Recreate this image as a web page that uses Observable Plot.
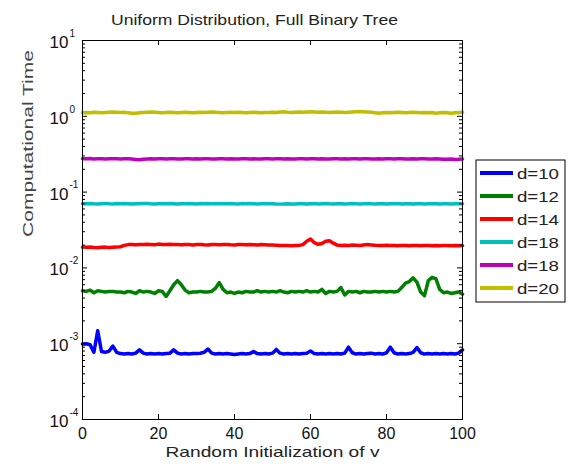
<!DOCTYPE html>
<html><head><meta charset="utf-8">
<script src="https://cdn.jsdelivr.net/npm/d3@7"></script>
<script src="https://cdn.jsdelivr.net/npm/@observablehq/plot@0.6"></script>
<style>body{margin:0;background:#fff;} svg{display:block;}</style>
</head><body><div id="chart"></div>
<script>
const titleText = "Uniform Distribution, Full Binary Tree";
const xLabel = "Random Initialization of v";
const yLabel = "Computational Time";
const xTicks = [0, 20, 40, 60, 80, 100];
const yDecades = [1e-4, 1e-3, 1e-2, 1e-1, 1, 10];
const yExponents = ["-4", "-3", "-2", "-1", "0", "1"];
const minorMults = [2, 3, 4, 5, 6, 7, 8, 9];
const labels = ["d=10", "d=12", "d=14", "d=18", "d=18", "d=20"];
const colors = ["#0000ff", "#008000", "#ff0000", "#00bfbf", "#bf00bf", "#bfbf00"];

const d10 = [
.00099,.00100,.00097,.00077,.00148,.00079,.00077,.00080,.00093,.00077,
.00074,.00073,.00074,.00073,.00075,.00083,.00075,.00073,.00074,.00073,
.00074,.00073,.00074,.00075,.00083,.00075,.00073,.00074,.00073,.00074,
.00074,.00075,.00077,.00085,.00075,.00073,.00074,.00073,.00074,.00073,
.00072,.00073,.00074,.00073,.00074,.00079,.00074,.00073,.00074,.00073,
.00075,.00084,.00075,.00073,.00074,.00073,.00074,.00073,.00074,.00075,
.00080,.00074,.00073,.00074,.00073,.00074,.00073,.00074,.00073,.00075,
.00090,.00076,.00073,.00074,.00073,.00074,.00075,.00073,.00074,.00073,
.00076,.00090,.00076,.00073,.00074,.00073,.00074,.00077,.00089,.00076,
.00073,.00074,.00073,.00074,.00073,.00074,.00073,.00074,.00073,.00075,.00083];

const d12 = [
.0050,.0049,.0051,.0047,.0050,.0049,.0048,.0049,.0049,.0048,
.0048,.0047,.0049,.0048,.0046,.0050,.0048,.0049,.0048,.0046,
.0050,.0049,.0042,.0050,.0060,.0068,.0060,.0051,.0047,.0048,
.0048,.0049,.0048,.0048,.0049,.0054,.0064,.0052,.0047,.0048,
.0046,.0048,.0047,.0049,.0048,.0048,.0050,.0048,.0049,.0048,
.0049,.0048,.0050,.0048,.0047,.0049,.0048,.0049,.0048,.0050,
.0048,.0049,.0048,.0052,.0046,.0049,.0048,.0049,.0055,.0044,
.0049,.0048,.0049,.0047,.0049,.0048,.0048,.0049,.0048,.0049,
.0048,.0049,.0048,.0049,.0055,.0063,.0066,.0074,.0065,.0048,
.0043,.0068,.0075,.0072,.0052,.0047,.0048,.0046,.0047,.0048,.0045];

const d14 = [
.0188,.0187,.0189,.0186,.0185,.0187,.0188,.0186,.0187,.0188,
.0190,.0198,.0203,.0204,.0202,.0204,.0203,.0205,.0204,.0202,
.0206,.0204,.0203,.0205,.0204,.0203,.0202,.0204,.0203,.0201,
.0203,.0204,.0202,.0201,.0203,.0204,.0202,.0203,.0204,.0202,
.0201,.0203,.0204,.0202,.0203,.0202,.0201,.0203,.0202,.0201,
.0200,.0199,.0198,.0197,.0198,.0196,.0197,.0198,.0203,.0225,
.0240,.0215,.0205,.0210,.0225,.0228,.0212,.0200,.0198,.0199,
.0198,.0200,.0199,.0198,.0201,.0203,.0201,.0199,.0198,.0197,
.0199,.0198,.0197,.0196,.0198,.0197,.0196,.0198,.0197,.0196,
.0197,.0198,.0196,.0197,.0196,.0198,.0197,.0196,.0197,.0196,.0197];

const d18a = [
.0705,.0700,.0708,.0702,.0698,.0704,.0710,.0703,.0699,.0705,
.0701,.0707,.0702,.0698,.0704,.0700,.0706,.0709,.0702,.0699,
.0703,.0705,.0700,.0707,.0702,.0698,.0704,.0701,.0706,.0703,
.0699,.0705,.0702,.0708,.0700,.0703,.0706,.0701,.0704,.0709,
.0702,.0698,.0705,.0700,.0707,.0703,.0699,.0704,.0706,.0701,
.0703,.0697,.0694,.0698,.0701,.0696,.0699,.0703,.0700,.0697,
.0702,.0705,.0699,.0703,.0706,.0700,.0697,.0702,.0704,.0699,
.0701,.0705,.0702,.0698,.0703,.0706,.0700,.0697,.0702,.0704,
.0699,.0703,.0700,.0705,.0698,.0702,.0704,.0699,.0701,.0703,
.0698,.0702,.0700,.0704,.0699,.0701,.0703,.0698,.0700,.0702,.0701];

const d18b = [
.276,.275,.277,.274,.275,.276,.274,.275,.276,.275,
.274,.275,.276,.273,.270,.268,.271,.274,.275,.274,
.276,.275,.274,.276,.275,.274,.273,.275,.276,.274,
.275,.274,.276,.275,.274,.273,.275,.276,.274,.275,
.273,.274,.275,.276,.274,.275,.273,.274,.276,.275,
.274,.275,.276,.274,.275,.273,.274,.275,.276,.274,
.275,.276,.274,.275,.273,.274,.275,.276,.274,.275,
.274,.275,.276,.274,.275,.276,.274,.273,.275,.274,
.276,.275,.274,.276,.275,.274,.273,.275,.274,.276,
.275,.274,.273,.275,.274,.272,.271,.273,.270,.271,.274];

const d20 = [
1.11,1.12,1.11,1.13,1.12,1.11,1.12,1.13,1.14,1.13,
1.12,1.13,1.11,1.10,1.10,1.11,1.12,1.13,1.14,1.13,
1.12,1.11,1.12,1.13,1.12,1.11,1.12,1.13,1.12,1.11,
1.12,1.13,1.12,1.13,1.14,1.13,1.12,1.11,1.12,1.13,
1.12,1.13,1.12,1.11,1.12,1.13,1.12,1.11,1.12,1.12,
1.13,1.12,1.14,1.15,1.13,1.12,1.13,1.14,1.13,1.14,
1.15,1.14,1.13,1.14,1.13,1.12,1.13,1.14,1.13,1.12,
1.13,1.14,1.15,1.16,1.15,1.14,1.13,1.11,1.10,1.11,
1.12,1.11,1.12,1.13,1.12,1.11,1.12,1.13,1.12,1.11,
1.12,1.11,1.12,1.10,1.11,1.12,1.11,1.10,1.11,1.12,1.13];

const seriesValues = [d10, d12, d14, d18a, d18b, d20];
const rows = seriesValues.flatMap((vals, k) => vals.map((v, i) => ({x: i, y: v, k})));
const minorTicks = yDecades.slice(0, -1).flatMap(d => minorMults.map(m => d * m));

const W = 569, H = 464, mL = 82, mR = 107, mT = 40, mB = 45;
const pw = W - mL - mR, ph = H - mT - mB;

const plot = Plot.plot({
  width: W, height: H,
  marginLeft: mL, marginRight: mR, marginTop: mT, marginBottom: mB,
  style: {fontFamily: "'Liberation Sans', Arial, sans-serif", background: "white", color: "#111"},
  x: {domain: [0, 100], axis: null},
  y: {type: "log", domain: [1e-4, 10], axis: null},
  marks: [
    Plot.line(rows, {x: "x", y: "y", z: "k", stroke: d => colors[d.k], strokeWidth: 3.5, strokeLinejoin: "round"}),
    Plot.tickX(xTicks, {x: d => d, insetTop: ph - 5, stroke: "black"}),
    Plot.tickX(xTicks, {x: d => d, insetBottom: ph - 5, stroke: "black"}),
    Plot.tickY(yDecades, {y: d => d, insetRight: pw - 5, stroke: "black"}),
    Plot.tickY(yDecades, {y: d => d, insetLeft: pw - 5, stroke: "black"}),
    Plot.tickY(minorTicks, {y: d => d, insetRight: pw - 3, stroke: "black"}),
    Plot.tickY(minorTicks, {y: d => d, insetLeft: pw - 3, stroke: "black"}),
    Plot.frame({stroke: "black"}),
    Plot.text(xTicks, {x: d => d, text: d => String(d), frameAnchor: "bottom", lineAnchor: "middle", dy: 14, fontSize: 16, fill: "#111"}),
    Plot.text(yDecades, {y: d => d, text: () => "10", frameAnchor: "left", lineAnchor: "middle", textAnchor: "end", dx: -14, dy: 2, fontSize: 17, fill: "#111"}),
    Plot.text(yDecades, {y: d => d, text: (d, i) => yExponents[i], frameAnchor: "left", lineAnchor: "middle", textAnchor: "start", dx: -13, dy: -7, fontSize: 10, fill: "#111"}),
    Plot.text([xLabel], {text: d => d, frameAnchor: "bottom", lineAnchor: "middle", dy: 33, fontSize: 15, fill: "#222"}),
    Plot.text([titleText], {text: d => d, frameAnchor: "top", lineAnchor: "middle", dx: -18, dy: -20, fontSize: 15, fill: "#222"}),
    Plot.text([yLabel], {text: d => d, frameAnchor: "left", lineAnchor: "middle", dx: -54, dy: 7, rotate: -90, fontSize: 15, fill: "#444"})
  ]
});

const svg = d3.select(plot);
const stretch = {[titleText]: 287, [xLabel]: 214, [yLabel]: 187};
svg.selectAll("text").each(function() {
  const t = this.textContent;
  if (stretch[t]) d3.select(this).attr("textLength", stretch[t]).attr("lengthAdjust", "spacingAndGlyphs");
});

// legend
const lg = svg.append("g").attr("font-family", "'Liberation Sans', Arial, sans-serif").attr("text-anchor", "start");
lg.append("rect").attr("x", 476).attr("y", 160).attr("width", 89).attr("height", 142)
  .attr("fill", "white").attr("stroke", "black").attr("stroke-width", 1);
labels.forEach((lab, i) => {
  const y = 173 + i * 23;
  lg.append("line").attr("x1", 480).attr("x2", 513).attr("y1", y).attr("y2", y)
    .attr("stroke", colors[i]).attr("stroke-width", 4);
  lg.append("text").attr("x", 517).attr("y", y + 5.5).attr("font-size", 15).attr("fill", "#222")
    .attr("text-anchor", "start")
    .attr("textLength", 42).attr("lengthAdjust", "spacingAndGlyphs").text(lab);
});

document.getElementById("chart").appendChild(plot);
</script></body></html>
